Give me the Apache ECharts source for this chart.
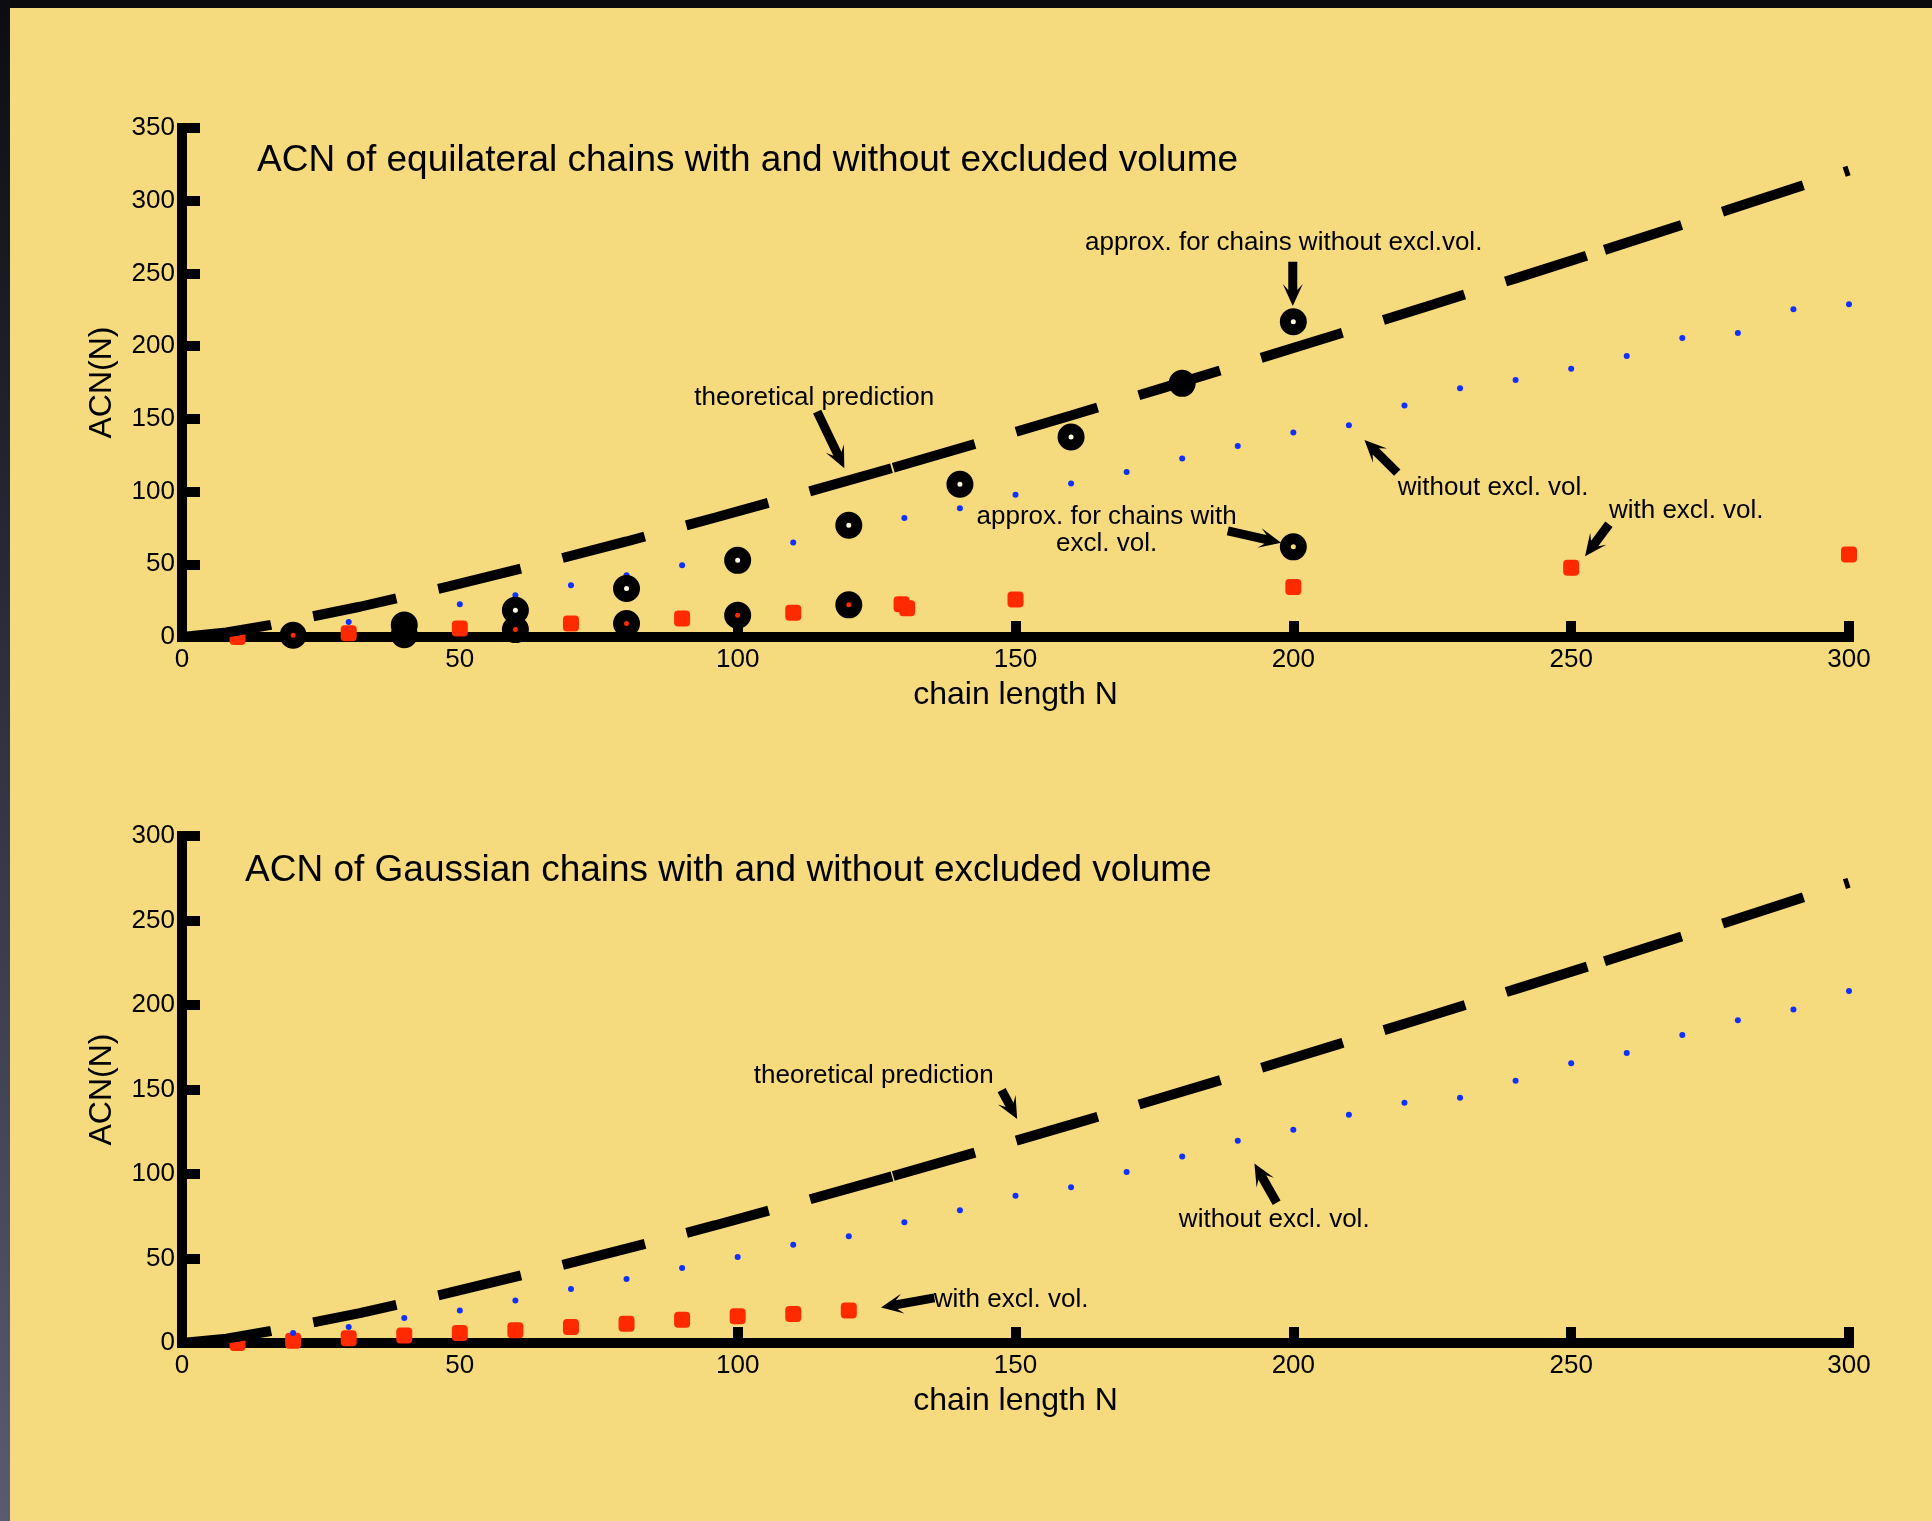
<!DOCTYPE html>
<html>
<head>
<meta charset="utf-8">
<title>ACN of equilateral and Gaussian chains</title>
<script src="https://cdn.jsdelivr.net/npm/echarts@6/dist/echarts.min.js"></script>
<style>
  html, body { margin: 0; padding: 0; width: 1932px; height: 1521px; overflow: hidden; background: #f6da7e; }
  #chart { position: absolute; left: 0; top: 0; width: 1932px; height: 1521px; }
  #edgeTop { position: absolute; left: 0; top: 0; width: 1932px; height: 8px; background: #0b0b0d; }
  #edgeLeft { position: absolute; left: 0; top: 0; width: 10px; height: 1521px; background: linear-gradient(#0c0c12, #5a5a72); }
</style>
</head>
<body>
<div id="chart"></div>
<div id="edgeTop"></div>
<div id="edgeLeft"></div>
<script>
// ---------- data ----------
// chain lengths sampled by the simulations
const chainN = [10, 20, 30, 40, 50, 60, 70, 80, 90, 100, 110, 120, 130, 140, 150,
                160, 170, 180, 190, 200, 210, 220, 230, 240, 250, 260, 270, 280, 290, 300];

// equilateral chains, no excluded volume (blue dots)
const equiNoExcl = [3, 6, 10.3, 14.5, 22.5, 28.7, 35.6, 42.5, 49.4, 57, 65, 73, 81.9, 88.5, 97.8,
                    105.6, 113.5, 122.8, 131.3, 140.6, 145.6, 159.2, 171, 176.8, 184.4, 193.2, 205.6, 209, 225.3, 228.8];

// equilateral chains with excluded volume (red squares)
const equiExclN = [10, 20, 30, 40, 50, 60, 70, 80, 90, 100, 110, 120, 129.5, 130.5, 150, 200, 250, 300];
const equiExcl  = [0, 1.2, 2.5, 4, 5.8, 5.1, 9.2, 9.2, 12.7, 15, 16.6, 22.1, 22.5, 19.8, 25.7, 34.4, 47.7, 56.8];

// approximations (black rings)
const approxNoExclN = [40, 60, 80, 100, 120, 140, 160, 180, 200];
const approxNoExcl  = [8.3, 18.4, 33.4, 52.7, 76.8, 105, 137.5, 174.4, 216.8];
const approxExclN   = [20, 40, 60, 80, 100, 120, 200];
const approxExcl    = [1.2, 1.6, 5.1, 9.2, 15, 22.1, 62];

// Gaussian chains
const gaussNoExcl = [2.5, 5.9, 9.5, 14.8, 19.3, 25.2, 32, 37.9, 44.4, 50.9, 58.2, 63.1, 71.4, 78.5, 87.2,
                     92.1, 101.2, 110.3, 119.7, 126.2, 135.1, 142.1, 145.1, 155.2, 165.5, 171.6, 182.3, 191, 197.4, 208.3];
const gaussExclN  = [10, 20, 30, 40, 50, 60, 70, 80, 90, 100, 110, 120];
const gaussExcl   = [0, 1.4, 2.8, 4.5, 5.9, 7.5, 9.5, 11.4, 13.8, 15.8, 17.2, 19.3];

// theoretical prediction curves (drawn in three pieces, split at N = 128 and N = 256)
const theoryN      = [0, 8, 16, 32, 48, 64, 80, 96, 112, 128, 144, 160, 176, 192, 208, 224, 240, 256, 278, 300];
const theoryEqui   = [0, 3.1, 8.3, 20.8, 34.8, 49.9, 65.7, 82.2, 99.1, 116.4, 134.2, 152.3, 170.6, 189.3, 208.2, 227.3, 246.6, 266.2, 293.4, 320.8];
const theoryGauss  = [0, 2.6, 7.1, 17.7, 29.6, 42.4, 55.8, 69.7, 84.1, 98.8, 113.9, 129.2, 144.8, 160.6, 176.7, 192.9, 209.4, 225.9, 249, 272.4];
const theoryBreaks = [128, 256];

// axis ranges / tick steps
const xRange = [0, 300];
const yMaxEqui = 350;
const yMaxGauss = 300;
const tickStep = 50;

// annotation texts and arrows, in data coordinates
const equiNotes = [
  { text: 'approx. for chains without excl.vol.', at: [162.5, 271], align: 'left' },
  { text: 'theoretical prediction', at: [92.2, 164.8], align: 'left' },
  { text: 'approx. for chains with\nexcl. vol.', at: [166.4, 73.6], align: 'center' },
  { text: 'without excl. vol.', at: [218.8, 102.4], align: 'left' },
  { text: 'with excl. vol.', at: [256.8, 87], align: 'left' }
];
const equiArrows = [
  { from: [199.9, 258], to: [199.9, 227.6] },
  { from: [114.3, 155], to: [119.2, 116] },
  { from: [188.2, 73], to: [197.8, 64.8] },
  { from: [218.7, 113], to: [212.8, 135.4] },
  { from: [256.8, 77.5], to: [252.5, 55.5] }
];
const gaussNotes = [
  { text: 'theoretical prediction', at: [102.9, 158], align: 'left' },
  { text: 'without excl. vol.', at: [179.4, 72.9], align: 'left' },
  { text: 'with excl. vol.', at: [135.3, 25.5], align: 'left' }
];
const gaussArrows = [
  { from: [147.5, 149.6], to: [150.3, 132.5] },
  { from: [197, 83], to: [193, 106.2] },
  { from: [135.4, 26.7], to: [125.8, 21] }
];
const titles = [
  'ACN of equilateral chains with and without excluded volume',
  'ACN of Gaussian chains with and without excluded volume'
];

// ---------- helpers ----------
const FONT = '"Liberation Sans", Arial, Helvetica, sans-serif';

function pairs(xs, ys) { return xs.map((x, i) => [x, ys[i]]); }

function splitCurve(xs, ys, breaks) {
  const segs = [];
  let cur = [];
  xs.forEach((x, i) => {
    cur.push([x, ys[i]]);
    if (breaks.indexOf(x) >= 0) { segs.push(cur); cur = [[x, ys[i]]]; }
  });
  if (cur.length > 1) segs.push(cur);
  return segs;
}

function xAxisFor(g) {
  return {
    type: 'value', gridIndex: g, min: xRange[0], max: xRange[1], interval: tickStep,
    name: 'chain length N', nameLocation: 'middle', nameGap: 42,
    nameTextStyle: { fontSize: 32, color: '#000', fontFamily: FONT },
    axisLine: { show: true, onZero: false, lineStyle: { color: '#000', width: 10, cap: 'square' } },
    axisTick: { show: true, inside: true, length: 16, lineStyle: { color: '#000', width: 10 } },
    axisLabel: { fontSize: 26, color: '#000', margin: 10, fontFamily: FONT },
    splitLine: { show: false }
  };
}
function yAxisFor(g, max) {
  return {
    type: 'value', gridIndex: g, min: 0, max: max, interval: tickStep,
    name: 'ACN(N)', nameLocation: 'middle', nameGap: 64,
    nameTextStyle: { fontSize: 32, color: '#000', fontFamily: FONT },
    axisLine: { show: true, onZero: false, lineStyle: { color: '#000', width: 10, cap: 'square' } },
    axisTick: { show: true, inside: true, length: 18, lineStyle: { color: '#000', width: 10 } },
    axisLabel: { fontSize: 26, color: '#000', margin: 7, fontFamily: FONT },
    splitLine: { show: false }
  };
}

const redStyle  = { symbol: 'roundRect', symbolSize: 16, itemStyle: { color: '#ff2a00', opacity: 1 } };
const blueStyle = { symbol: 'circle', symbolSize: 6, itemStyle: { color: '#1030ff', opacity: 1 } };
const ringFace  = { borderColor: '#000', borderWidth: 11, opacity: 1 };

// the dash pattern restarts at every piece of the theory curve
const pieceDashOffset = [-5, 0, 4];
function theorySeries(g, ys) {
  return splitCurve(theoryN, ys, theoryBreaks).map((seg, k) => ({
    type: 'line', xAxisIndex: g, yAxisIndex: g, data: seg,
    showSymbol: false, symbol: 'none', z: 6, silent: true,
    lineStyle: { color: '#000', width: 10, type: [85, 43], dashOffset: pieceDashOffset[k], cap: 'butt' }
  }));
}

const series = [
  // equilateral chains
  Object.assign({ type: 'scatter', xAxisIndex: 0, yAxisIndex: 0, data: pairs(equiExclN, equiExcl), z: 2, clip: false }, redStyle),
  Object.assign({ type: 'scatter', xAxisIndex: 0, yAxisIndex: 0, data: pairs(chainN, equiNoExcl), z: 3 }, blueStyle),
  { type: 'scatter', xAxisIndex: 0, yAxisIndex: 0, data: pairs(approxNoExclN, approxNoExcl), z: 4,
    symbol: 'circle', symbolSize: 16, itemStyle: Object.assign({ color: '#fff9df' }, ringFace) },
  { type: 'scatter', xAxisIndex: 0, yAxisIndex: 0, data: pairs(approxExclN, approxExcl), z: 5, clip: false,
    symbol: 'circle', symbolSize: 16, itemStyle: Object.assign({ color: 'rgba(0,0,0,0)' }, ringFace) },
  ...theorySeries(0, theoryEqui),
  // Gaussian chains
  Object.assign({ type: 'scatter', xAxisIndex: 1, yAxisIndex: 1, data: pairs(gaussExclN, gaussExcl), z: 2, clip: false }, redStyle),
  Object.assign({ type: 'scatter', xAxisIndex: 1, yAxisIndex: 1, data: pairs(chainN, gaussNoExcl), z: 3 }, blueStyle),
  ...theorySeries(1, theoryGauss)
];

const chart = echarts.init(document.getElementById('chart'), null, { renderer: 'canvas' });
chart.setOption({
  animation: false,
  backgroundColor: 'transparent',
  grid: [
    { left: 182, right: 83, top: 128, height: 509 },
    { left: 182, right: 83, top: 836, height: 507 }
  ],
  xAxis: [xAxisFor(0), xAxisFor(1)],
  yAxis: [yAxisFor(0, yMaxEqui), yAxisFor(1, yMaxGauss)],
  series: series
});

// ---------- annotations (text + arrows anchored in data space) ----------
function toPx(g, p) { return chart.convertToPixel({ gridIndex: g }, p); }

function arrowShape(tail, head) {
  const dx = head[0] - tail[0], dy = head[1] - tail[1];
  const len = Math.hypot(dx, dy);
  const ux = dx / len, uy = dy / len, nx = -uy, ny = ux;
  const headLen = 22, headHalf = 10, shaftHalf = 4.5, notch = 6;
  const bx = head[0] - ux * headLen, by = head[1] - uy * headLen;
  const P = (x, y) => [x, y];
  return [
    P(head[0], head[1]),
    P(bx + nx * headHalf, by + ny * headHalf),
    P(bx + ux * notch + nx * shaftHalf, by + uy * notch + ny * shaftHalf),
    P(tail[0] + nx * shaftHalf, tail[1] + ny * shaftHalf),
    P(tail[0] - nx * shaftHalf, tail[1] - ny * shaftHalf),
    P(bx + ux * notch - nx * shaftHalf, by + uy * notch - ny * shaftHalf),
    P(bx - nx * headHalf, by - ny * headHalf)
  ];
}

const graphics = [];
function addNotes(g, notes, arrows) {
  notes.forEach(n => {
    const p = toPx(g, n.at);
    graphics.push({
      type: 'text', x: p[0], y: p[1], z: 20, silent: true,
      style: { text: n.text, fill: '#000', fontSize: 26, fontFamily: FONT,
               align: n.align, verticalAlign: 'middle', lineHeight: 27 }
    });
  });
  arrows.forEach(a => {
    graphics.push({
      type: 'polygon', z: 20, silent: true,
      shape: { points: arrowShape(toPx(g, a.from), toPx(g, a.to)) },
      style: { fill: '#000' }
    });
  });
}
addNotes(0, equiNotes, equiArrows);
addNotes(1, gaussNotes, gaussArrows);

graphics.push({ type: 'text', x: 257, y: 161, z: 20, silent: true,
  style: { text: titles[0], fill: '#000', fontSize: 37, fontFamily: FONT, verticalAlign: 'middle' } });
graphics.push({ type: 'text', x: 245, y: 871, z: 20, silent: true,
  style: { text: titles[1], fill: '#000', fontSize: 37, fontFamily: FONT, verticalAlign: 'middle' } });

chart.setOption({ graphic: graphics });
</script>
</body>
</html>
